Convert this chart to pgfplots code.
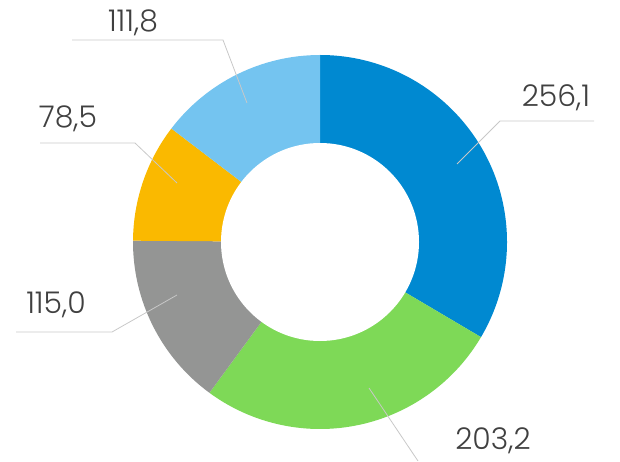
\documentclass[border=0pt]{standalone}
\usepackage{pgfplots}
\usepackage{pgfplotstable}
\pgfplotsset{compat=1.18}
\usepackage{fontspec}
\setmainfont{Poppins}[UprightFont=* Light]
\definecolor{cblue}{RGB}{0,137,209}
\definecolor{cgreen}{RGB}{126,217,87}
\definecolor{cgray}{RGB}{148,149,148}
\definecolor{cyellow}{RGB}{250,185,0}
\definecolor{clblue}{RGB}{116,196,240}
\definecolor{ctext}{RGB}{64,64,64}
\definecolor{cline}{RGB}{200,200,200}
\pgfplotstableread{
value color
256.1 cblue
203.2 cgreen
115.0 cgray
78.5 cyellow
111.8 clblue
}\datatable
\begin{document}
\begin{tikzpicture}
\begin{axis}[scale only axis, width=620bp, height=461bp,
  xmin=0, xmax=620, ymin=0, ymax=461, axis lines=none, clip=false]
\path (axis cs:0,0) rectangle (axis cs:620,461);
\pgfmathsetmacro{\total}{0}
\pgfplotsforeachungrouped \i in {0,...,4}{%
  \pgfplotstablegetelem{\i}{value}\of\datatable
  \pgfmathsetmacro{\total}{\total+\pgfplotsretval}%
}
\def\angstart{90}
\pgfplotsforeachungrouped \i in {0,...,4}{%
  \pgfplotstablegetelem{\i}{value}\of\datatable \let\sv\pgfplotsretval
  \pgfplotstablegetelem{\i}{color}\of\datatable \let\sc\pgfplotsretval
  \pgfmathsetmacro{\angend}{\angstart-360*(\sv/\total)}%
  \edef\temp{\noexpand\fill[\sc] (axis cs:320,219) -- ++(\angstart:187bp) arc[start angle=\angstart, end angle=\angend, radius=187bp] -- cycle;}%
  \temp
  \global\let\angstart\angend
}
\fill[white] (axis cs:320,219) circle[radius=99bp];
% leader lines
\draw[cline, line width=0.8bp] (axis cs:457,297) -- (axis cs:500,340) -- (axis cs:594,340);
\draw[cline, line width=0.8bp] (axis cs:369,73) -- (axis cs:418,0);
\draw[cline, line width=0.8bp] (axis cs:177,166) -- (axis cs:112,129) -- (axis cs:16,129);
\draw[cline, line width=0.8bp] (axis cs:177,278) -- (axis cs:135,318) -- (axis cs:40,318);
\draw[cline, line width=0.8bp] (axis cs:247,358) -- (axis cs:223,421) -- (axis cs:72,421);
% labels
\tikzset{lbl/.style={anchor=base, text=ctext, font=\fontsize{30}{36}\selectfont, inner sep=0pt}}
\node[lbl] at (axis cs:556,354) {256,1};
\node[lbl] at (axis cs:493,12) {203,2};
\node[lbl] at (axis cs:56,148) {115,0};
\node[lbl] at (axis cs:68,333) {78,5};
\node[lbl] at (axis cs:133,429) {111,8};
\end{axis}
\end{tikzpicture}
\end{document}
